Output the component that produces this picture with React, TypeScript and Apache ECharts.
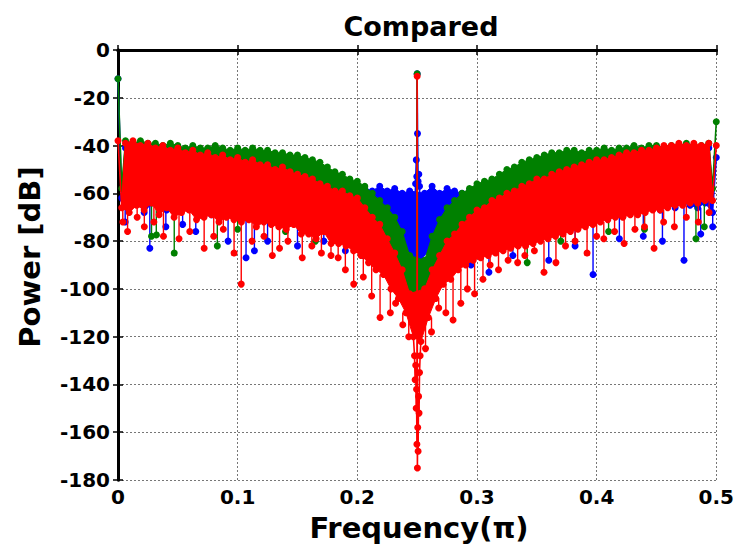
import React, { useEffect, useRef } from "react";
import * as echarts from "echarts";

// Frequency grid: 161 bins from 0 to 0.5 (units of pi)
const BIN_COUNT = 161;
const F_MAX = 0.5;

const xTicks = [0, 0.1, 0.2, 0.3, 0.4, 0.5];
const yTicks = [0, -20, -40, -60, -80, -100, -120, -140, -160, -180];

// Dense band values [dB], one per bin (alternating upper / lower edge)
const blueY = [
  -12, -62, -41, -66, -40, -63, -41, -68, -42, -64, -41, -65, -42, -67, -43, -64,
  -42, -66, -43, -66, -43, -68, -44, -65, -43, -69, -44, -66, -43, -68, -44, -67,
  -43, -69, -44, -68, -44, -69, -45, -68, -44, -70, -45, -67, -45, -71, -46, -69,
  -46, -72, -47, -70, -48, -73, -50, -71, -51, -74, -53, -72, -54, -75, -56, -74,
  -57, -76, -58, -75, -59, -78, -57, -77, -59, -80, -58, -79, -60, -83, -59, -87,
  -10, -88, -60, -84, -57, -82, -60, -80, -58, -81, -59, -78, -60, -79, -59, -76,
  -58, -77, -57, -76, -56, -74, -54, -73, -52, -72, -51, -73, -49, -70, -48, -71,
  -47, -68, -46, -70, -45, -67, -45, -69, -44, -66, -44, -67, -45, -67, -44, -66,
  -44, -66, -43, -68, -44, -65, -43, -65, -43, -66, -42, -64, -43, -65, -42, -65,
  -42, -67, -43, -64, -42, -66, -41, -64, -42, -65, -41, -66, -42, -64, -41, -68,
  -45,
];
const greenY = [
  -12, -58, -38, -60, -39, -56, -38, -61, -39, -60, -39, -59, -40, -62, -39, -61,
  -40, -60, -41, -63, -40, -61, -41, -64, -41, -62, -40, -63, -41, -63, -42, -61,
  -41, -64, -42, -62, -41, -65, -42, -63, -42, -66, -43, -64, -43, -67, -44, -65,
  -44, -68, -45, -66, -46, -70, -47, -68, -49, -72, -51, -74, -52, -75, -54, -77,
  -55, -78, -57, -80, -60, -82, -63, -85, -66, -88, -70, -92, -76, -98, -86, -112,
  -10, -114, -88, -100, -78, -94, -71, -90, -66, -86, -63, -82, -60, -80, -58, -78,
  -56, -76, -55, -74, -54, -73, -52, -72, -50, -70, -49, -69, -47, -68, -46, -67,
  -45, -66, -44, -65, -43, -64, -43, -63, -42, -62, -42, -64, -43, -62, -42, -61,
  -42, -63, -41, -61, -42, -62, -41, -60, -41, -61, -40, -59, -41, -60, -40, -62,
  -40, -59, -41, -60, -40, -58, -40, -61, -39, -59, -40, -59, -40, -60, -39, -58,
  -30,
];
const redY = [
  -38, -66, -39, -68, -38, -65, -40, -67, -39, -64, -41, -69, -40, -66, -42, -70,
  -41, -68, -43, -67, -42, -71, -44, -70, -43, -69, -45, -72, -44, -70, -46, -71,
  -45, -72, -47, -71, -46, -74, -48, -72, -48, -73, -50, -74, -49, -75, -51, -73,
  -52, -77, -53, -77, -54, -79, -56, -76, -57, -81, -59, -81, -59, -82, -61, -84,
  -62, -86, -66, -89, -70, -92, -73, -94, -79, -100, -85, -104, -92, -110, -102, -120,
  -11, -122, -100, -112, -92, -104, -86, -98, -80, -96, -77, -92, -73, -90, -70, -88,
  -67, -87, -66, -86, -63, -85, -62, -84, -60, -83, -59, -82, -57, -82, -56, -81,
  -54, -80, -54, -79, -52, -78, -51, -77, -50, -76, -49, -75, -48, -74, -47, -73,
  -46, -72, -46, -71, -45, -70, -44, -70, -43, -69, -43, -69, -42, -68, -42, -67,
  -41, -67, -40, -66, -40, -65, -39, -65, -40, -64, -39, -64, -40, -63, -39, -63,
  -40,
];

// Extra points read around the 0.25 tone (frequency, dB)
const blueCenter = [
  [0.2487, -56], [0.2493, -46], [0.2497, -53], [0.2503, -35], [0.2508, -55], [0.2514, -52], [0.252, -57],
];
const greenCenter = [
  [0.2485, -105], [0.2495, -110], [0.2505, -113], [0.2515, -108],
];
const redCenter = [
  [0.2478, -128], [0.2483, -138], [0.2488, -132], [0.2492, -150], [0.2495, -142], [0.2498, -165],
  [0.2502, -175], [0.2505, -158], [0.2508, -168], [0.2512, -145], [0.2516, -152], [0.252, -135], [0.2525, -128],
];

// Isolated deep dips below the band (frequency, dB)
const blueDips = [
  [0.006, -72], [0.0266, -83], [0.04, -74], [0.054, -73], [0.065, -76], [0.092, -80], [0.107, -87],
  [0.114, -84], [0.125, -80], [0.15, -82], [0.172, -80], [0.19, -84], [0.205, -86], [0.295, -90],
  [0.31, -93], [0.33, -86], [0.36, -88], [0.382, -82], [0.397, -94], [0.419, -79], [0.439, -78],
  [0.455, -80], [0.473, -88], [0.487, -77], [0.497, -74],
];
const greenDips = [
  [0.028, -78], [0.032, -77], [0.047, -85], [0.083, -82], [0.1, -75], [0.14, -76], [0.165, -80],
  [0.342, -89], [0.37, -80], [0.41, -76], [0.44, -75], [0.483, -79], [0.49, -74],
];
const redDips = [
  [0.004, -72], [0.008, -76], [0.016, -70], [0.022, -74], [0.03, -72], [0.038, -78], [0.051, -79],
  [0.06, -76], [0.072, -83], [0.08, -78], [0.088, -75], [0.097, -85], [0.103, -98], [0.112, -80],
  [0.122, -78], [0.129, -86], [0.135, -83], [0.142, -80], [0.154, -87], [0.162, -82], [0.17, -85],
  [0.178, -86], [0.184, -87], [0.19, -92], [0.197, -98], [0.205, -95], [0.212, -103], [0.219, -112],
  [0.2276, -110], [0.232, -106], [0.238, -115], [0.243, -120],
  [0.257, -125], [0.262, -118], [0.268, -108], [0.274, -110], [0.28, -113], [0.2865, -106],
  [0.292, -100], [0.298, -102], [0.305, -96], [0.311, -90], [0.318, -92], [0.326, -88], [0.334, -89],
  [0.34, -86], [0.348, -84], [0.356, -93], [0.366, -89], [0.374, -82], [0.382, -80], [0.392, -85],
  [0.4, -78], [0.406, -79], [0.415, -76], [0.423, -81], [0.432, -75], [0.44, -74], [0.448, -83],
  [0.456, -72], [0.465, -74], [0.475, -70], [0.485, -72], [0.494, -68],
];

const STEP = F_MAX / (BIN_COUNT - 1);
const CENTER_BIN = (BIN_COUNT - 1) / 2;

function buildSeries(ys: number[], extras: number[][]) {
  const pts = ys.map((y, i) => [i * STEP, y]);
  return [...pts, ...extras].sort((a, b) => a[0] - b[0]);
}

// outline of the dense band: upper-edge bins forward, lower-edge bins back (tone bins left out)
function buildBand(ys: number[]) {
  const upper: number[][] = [];
  const lower: number[][] = [];
  ys.forEach((y, i) => {
    if (i === 0 || i === ys.length - 1 || i === CENTER_BIN) return;
    if (i % 2 === 0) upper.push([i * STEP, y]);
    else lower.push([i * STEP, y]);
  });
  return [...upper, ...lower.reverse()];
}

// each dip hangs from the lower band edge at that frequency
function buildDips(ys: number[], dips: number[][]) {
  return dips.map(([f, v]) => {
    const lo = Math.floor(f / STEP);
    const hi = Math.min(ys.length - 1, lo + 1);
    const from = Math.min(ys[lo], ys[hi]);
    return [f, from, v];
  });
}

const FONT = "'DejaVu Sans', 'Noto Sans', sans-serif";

export default function App() {
  const ref = useRef<HTMLDivElement>(null);
  useEffect(() => {
    if (!ref.current) return;
    const chart = echarts.init(ref.current, null, { renderer: "svg" });
    const gridLeft = 118, gridRight = 17, gridTop = 50, gridBottom = 69;
    const W = 737, H = 549;
    const cx = gridLeft + (W - gridLeft - gridRight) / 2;
    const cy = gridTop + (H - gridTop - gridBottom) / 2;

    const axisLine = { show: true, lineStyle: { color: "#000", width: 3 } };
    const tick = { show: true, inside: true, length: 5, lineStyle: { color: "#000", width: 1.5 } };
    const split = { show: true, lineStyle: { color: "#777", type: [2, 2] as any, width: 1 } };
    const label = { color: "#000", fontFamily: FONT, fontWeight: "bold" as const, fontSize: 20 };

    const lineSeries = (name: string, color: string, z: number, data: number[][]) => ({
      name,
      type: "line",
      z,
      data,
      symbol: "circle",
      symbolSize: 7,
      showSymbol: true,
      lineStyle: { color, width: 1.6 },
      itemStyle: { color, borderWidth: 0 },
      silent: true,
    });
    const bandSeries = (name: string, color: string, z: number, poly: number[][]) => ({
      name,
      type: "custom",
      z,
      data: poly,
      silent: true,
      encode: { x: 0, y: 1 },
      renderItem: (params: any, api: any) => {
        if (params.dataIndex !== 0) return null;
        return {
          type: "polygon",
          shape: { points: poly.map((p) => api.coord(p)) },
          style: { fill: color, stroke: color, lineWidth: 1 },
        };
      },
    });
    const stemSeries = (name: string, color: string, z: number, data: number[][]) => ({
      name,
      type: "custom",
      z,
      data,
      silent: true,
      encode: { x: 0, y: [1, 2] },
      renderItem: (_p: any, api: any) => {
        const f = api.value(0);
        const a = api.coord([f, api.value(1)]);
        const b = api.coord([f, api.value(2)]);
        return {
          type: "group",
          children: [
            { type: "line", shape: { x1: a[0], y1: a[1], x2: b[0], y2: b[1] }, style: { stroke: color, lineWidth: 1.4 } },
            { type: "circle", shape: { cx: b[0], cy: b[1], r: 3.5 }, style: { fill: color } },
          ],
        };
      },
    });

    const BLUE = "#0000ff", GREEN = "#008000", RED = "#ff0000";

    chart.setOption({
      animation: false,
      backgroundColor: "#fff",
      grid: { left: gridLeft, right: gridRight, top: gridTop, bottom: gridBottom },
      xAxis: [
        {
          type: "value", min: xTicks[0], max: xTicks[xTicks.length - 1], interval: 0.1,
          axisLine, axisTick: tick, splitLine: split,
          axisLabel: { ...label, margin: 7, formatter: (v: number) => String(Math.round(v * 10) / 10) },
        },
        {
          type: "value", position: "top", min: 0, max: 0.5, interval: 0.1,
          axisLine, axisTick: tick, splitLine: { show: false }, axisLabel: { show: false },
        },
      ],
      yAxis: [
        {
          type: "value", min: yTicks[yTicks.length - 1], max: yTicks[0], interval: 20,
          axisLine, axisTick: tick, splitLine: split,
          axisLabel: { ...label, margin: 8 },
        },
        {
          type: "value", position: "right", min: -180, max: 0, interval: 20,
          axisLine, axisTick: tick, splitLine: { show: false }, axisLabel: { show: false },
        },
      ],
      graphic: [
        {
          type: "text", x: cx + 2, y: 26,
          style: { text: "Compared", font: `bold 27px ${FONT}`, fill: "#000", textAlign: "center", textVerticalAlign: "middle" },
        },
        {
          type: "text", x: cx, y: 528,
          style: { text: "Frequency(π)", font: `bold 29px ${FONT}`, fill: "#000", textAlign: "center", textVerticalAlign: "middle" },
        },
        {
          type: "text", x: 30, y: cy - 8, rotation: Math.PI / 2,
          style: { text: "Power [dB]", font: `bold 29px ${FONT}`, fill: "#000", textAlign: "center", textVerticalAlign: "middle" },
        },
      ],
      series: [
        stemSeries("blueDips", BLUE, 2, buildDips(blueY, blueDips)),
        bandSeries("blueBand", BLUE, 2, buildBand(blueY)),
        lineSeries("blue", BLUE, 2, buildSeries(blueY, blueCenter)),
        stemSeries("greenDips", GREEN, 3, buildDips(greenY, greenDips)),
        bandSeries("greenBand", GREEN, 3, buildBand(greenY)),
        lineSeries("green", GREEN, 3, buildSeries(greenY, greenCenter)),
        stemSeries("redDips", RED, 4, buildDips(redY, redDips)),
        bandSeries("redBand", RED, 4, buildBand(redY)),
        lineSeries("red", RED, 4, buildSeries(redY, redCenter)),
      ],
    });
    return () => chart.dispose();
  }, []);
  return <div ref={ref} style={{ position: "fixed", left: 0, top: 0, width: 737, height: 549 }} />;
}
